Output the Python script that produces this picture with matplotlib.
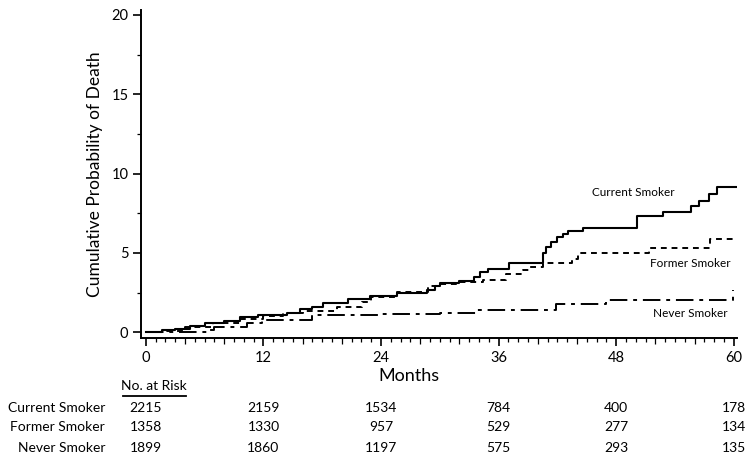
import numpy as np
import matplotlib
matplotlib.use('Agg')
import matplotlib.pyplot as plt
from matplotlib.ticker import MultipleLocator

plt.rcParams['font.family'] = ['Lato', 'DejaVu Sans']

# step curves (months, cumulative probability %)
current_t = [0, 1.6, 3, 4.5, 6, 8, 9.6, 11.4, 14.4, 15.7, 17, 18.1, 20.6, 22.9, 25.6, 28.7,
             29.5, 30, 32, 33.5, 34.1, 34.9, 37.1, 40.5, 40.8, 41.3, 42, 42.6, 43.1, 44.6,
             50.1, 52.8, 55.6, 56.5, 57.5, 58.3, 60.2]
current_y = [0, 0.13, 0.2, 0.38, 0.57, 0.7, 0.95, 1.07, 1.2, 1.45, 1.6, 1.83, 2.1, 2.27, 2.45, 2.65,
             2.9, 3.1, 3.25, 3.5, 3.8, 4.0, 4.35, 5.0, 5.4, 5.7, 6.0, 6.2, 6.4, 6.55,
             7.3, 7.6, 7.95, 8.3, 8.7, 9.15, 9.15]

former_t = [0, 2, 4, 6.8, 9.6, 12, 14, 16, 19.5, 22.1, 23, 25.6, 28.8, 30, 32, 34.4, 36.8,
            38.5, 39.2, 40.5, 43.5, 44.1, 51.4, 57.6, 59.9]
former_y = [0, 0.1, 0.3, 0.57, 0.8, 1.0, 1.2, 1.35, 1.6, 1.9, 2.2, 2.55, 2.9, 3.05, 3.15, 3.3, 3.65,
            3.9, 4.1, 4.35, 4.6, 5.0, 5.3, 5.85, 5.85]

never_t = [0, 6.5, 7, 10.3, 11.8, 17, 24, 30, 33.8, 41.9, 47, 59.9]
never_y = [0, 0.13, 0.35, 0.55, 0.75, 1.07, 1.15, 1.2, 1.4, 1.75, 2.0, 2.65]

groups = ['Current Smoker', 'Former Smoker', 'Never Smoker']
risk_months = [0, 12, 24, 36, 48, 60]
risk_current = [2215, 2159, 1534, 784, 400, 178]
risk_former = [1358, 1330, 957, 529, 277, 134]
risk_never = [1899, 1860, 1197, 575, 293, 135]

fig = plt.figure(figsize=(7.54, 4.62), dpi=100)
ax = fig.add_axes([0.187, 0.268, 0.790, 0.710])

ax.plot(current_t, current_y, drawstyle='steps-post', color='black', lw=1.5)
ax.plot(former_t, former_y, drawstyle='steps-post', color='black', lw=1.4, dashes=(3, 2.5))
ax.plot(never_t, never_y, drawstyle='steps-post', color='black', lw=1.4, dashes=(9, 3, 2, 3))

ax.text(49.8, 8.83, 'Current Smoker', fontsize=8.5, ha='center', va='center')
ax.text(55.6, 4.35, 'Former Smoker', fontsize=8.5, ha='center', va='center')
ax.text(55.6, 1.2, 'Never Smoker', fontsize=8.5, ha='center', va='center')

ax.set_xlim(-0.5, 60.3)
ax.set_ylim(-0.38, 20.3)
ax.spines['top'].set_visible(False)
ax.spines['right'].set_visible(False)
ax.spines['left'].set_linewidth(1.4)
ax.spines['bottom'].set_linewidth(1.4)

ax.set_xticks(risk_months)
ax.xaxis.set_minor_locator(MultipleLocator(1))
ax.set_yticks([0, 5, 10, 15, 20])
ax.yaxis.set_minor_locator(MultipleLocator(2.5))
ax.tick_params(axis='both', which='major', labelsize=10.5, length=5.5, width=1.2, direction='out')
ax.tick_params(axis='both', which='minor', length=2.8, width=0.9, direction='out')

# every 4th month tick is a bit longer
locs = ax.xaxis.get_minorticklocs()
for loc, tick in zip(locs, ax.xaxis.get_minor_ticks(len(locs))):
    if round(loc) % 4 == 0:
        tick.tick1line.set_markersize(4.3)

ax.set_xlabel('Months', fontsize=13)
ax.xaxis.set_label_coords(0.45, -0.09)
ax.set_ylabel('Cumulative Probability of Death', fontsize=12.5, labelpad=6)

# risk table
rows = [risk_current, risk_former, risk_never]
row_y = [408, 427, 448]
trans = matplotlib.transforms.blended_transform_factory(ax.transData, fig.transFigure)
fig.text(154 / 754, 1 - 386 / 462, 'No. at Risk', fontsize=10, ha='center', va='center')
fig.add_artist(plt.Line2D([123 / 754, 186 / 754], [1 - 396 / 462] * 2, color='black', lw=1.3))
for name, vals, yp in zip(groups, rows, row_y):
    fig.text(105 / 754, 1 - yp / 462, name, fontsize=10, ha='right', va='center')
    for m, v in zip(risk_months, vals):
        ax.text(m, 1 - yp / 462, str(v), fontsize=10, ha='center', va='center', transform=trans)

fig.savefig('out.png', dpi=100)
